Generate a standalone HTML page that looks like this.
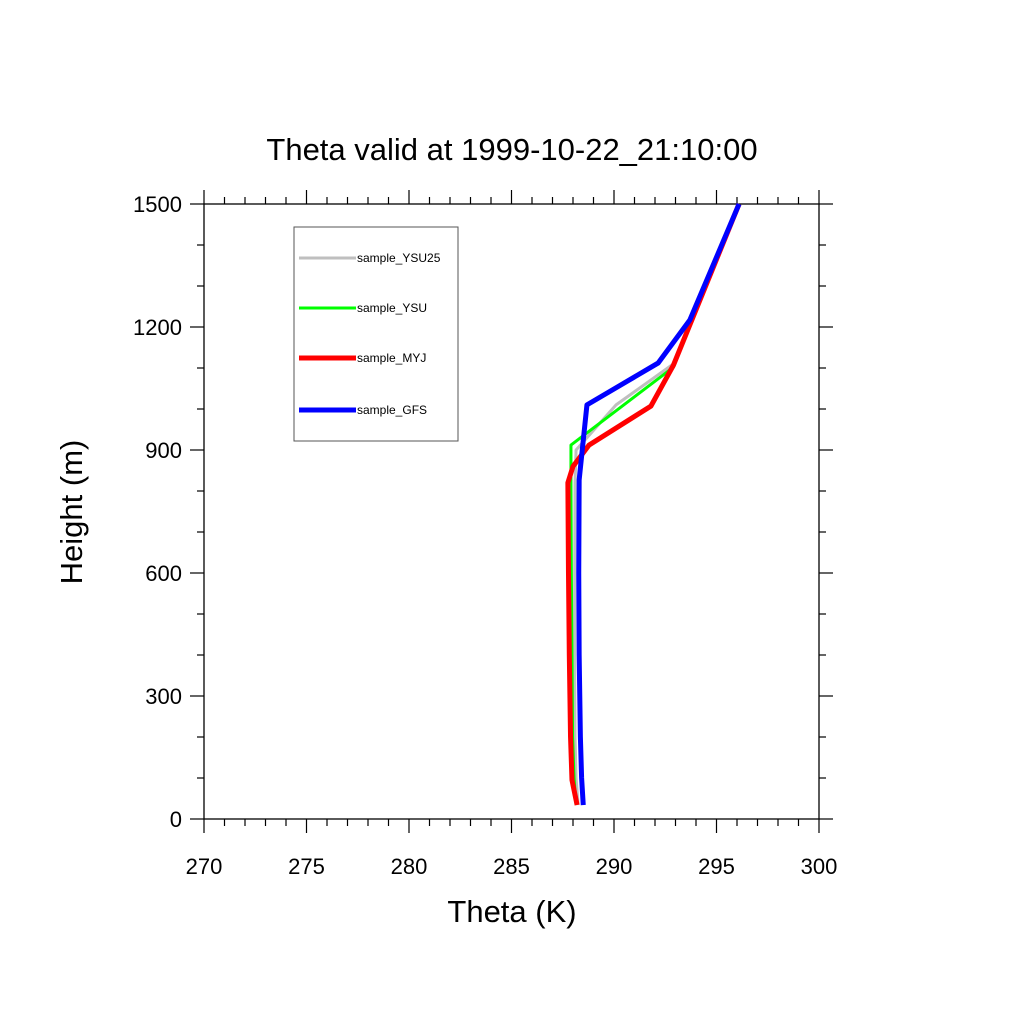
<!DOCTYPE html>
<html><head><meta charset="utf-8"><style>body{margin:0;background:#fff}svg{display:block}text{font-family:"Liberation Sans",sans-serif}</style></head><body>
<svg id="c" width="1024" height="1024">
<text x="512" y="160" font-size="31" text-anchor="middle">Theta valid at 1999-10-22_21:10:00</text>
<text x="512" y="922" font-size="31" text-anchor="middle">Theta (K)</text>
<text transform="translate(82,512) rotate(-90)" font-size="31" text-anchor="middle">Height (m)</text>
<g id="axes"></g><g id="series"></g><g id="legend"></g>
</svg>
<script>
const xTicks=[270,275,280,285,290,295,300];
const yTicks=[0,300,600,900,1200,1500];
const seriesNames=["sample_YSU25","sample_YSU","sample_MYJ","sample_GFS"];
const seriesColors=["#bfbfbf","#00ff00","#ff0000","#0000ff"];
const seriesWidths=[3,3,5,5];
const ysu25Theta=[288.25,288.15,288.1,288.08,288.08,288.1,288.15,290.1,292.9,296.1];
const ysu25H=[34,100,200,400,600,820,900,1010,1110,1500];
const ysuTheta=[288.15,288.05,287.98,287.95,287.92,287.9,287.9,292.9,296.1];
const ysuH=[34,100,200,400,600,820,912,1102,1500];
const myjTheta=[288.2,287.95,287.88,287.82,287.78,287.75,288.0,288.78,291.8,292.9,296.1];
const myjH=[34,95,200,400,600,820,860,912,1007,1107,1500];
const gfsTheta=[288.5,288.42,288.36,288.3,288.28,288.3,288.68,292.15,293.7,296.1];
const gfsH=[34,100,200,400,600,827,1010,1112,1217,1500];
const allTheta=[ysu25Theta,ysuTheta,myjTheta,gfsTheta];
const allH=[ysu25H,ysuH,myjH,gfsH];
const L=204,R=819,T=204,B=819;
const xs=v=>L+(v-270)/30*(R-L);
const ys=v=>B-v/1500*(B-T);
const NS="http://www.w3.org/2000/svg";
function mk(p,tag,a){const e=document.createElementNS(NS,tag);for(const k in a)e.setAttribute(k,a[k]);p.appendChild(e);return e;}
const ax=document.getElementById('axes');
let e=mk(ax,'rect',{x:L,y:T,width:R-L,height:B-T,fill:'none',stroke:'#000','stroke-width':1.3});

for(let v=270;v<=300;v++){const maj=v%5===0,len=maj?14:7,x=xs(v);
 mk(ax,'line',{x1:x,x2:x,y1:B,y2:B+len,stroke:'#000','stroke-width':1.2});
 mk(ax,'line',{x1:x,x2:x,y1:T,y2:T-len,stroke:'#000','stroke-width':1.2});}
for(let v=0;v<=1500;v+=100){const maj=v%300===0,len=maj?14:7,y=ys(v);
 mk(ax,'line',{x1:L,x2:L-len,y1:y,y2:y,stroke:'#000','stroke-width':1.2});
 mk(ax,'line',{x1:R,x2:R+len,y1:y,y2:y,stroke:'#000','stroke-width':1.2});}
xTicks.forEach(v=>{const t=mk(ax,'text',{x:xs(v),y:B+55,'font-size':22,'text-anchor':'middle'});t.textContent=v;
 });
yTicks.forEach(v=>{const t=mk(ax,'text',{x:L-22,y:ys(v)+8,'font-size':22,'text-anchor':'end'});t.textContent=v;
 });
const sg=document.getElementById('series');
allTheta.forEach((th,i)=>{const pts=th.map((v,j)=>xs(v)+','+ys(allH[i][j])).join(' ');
 const p=mk(sg,'polyline',{points:pts,fill:'none',stroke:seriesColors[i],'stroke-width':seriesWidths[i],'stroke-linejoin':'round'});
 });
const lg=document.getElementById('legend');
e=mk(lg,'rect',{x:294,y:227,width:164,height:214,fill:'#fff',stroke:'#555','stroke-width':1});

const ly=[258,308,358,410];
seriesNames.forEach((n,i)=>{const g=mk(lg,'g',{});
 
 mk(g,'line',{x1:299,x2:356,y1:ly[i],y2:ly[i],stroke:seriesColors[i],'stroke-width':seriesWidths[i]});
 const t=mk(g,'text',{x:357,y:ly[i]+4,'font-size':12});t.textContent=n;});
</script>
</body></html>
